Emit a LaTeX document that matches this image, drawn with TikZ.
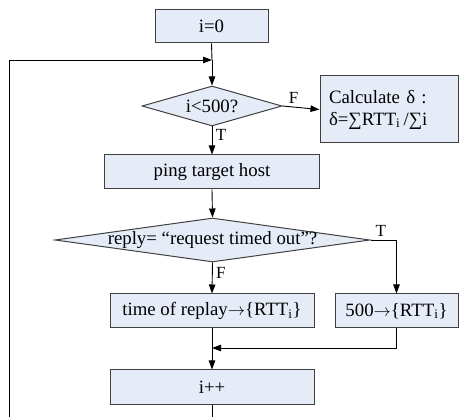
\documentclass[tikz,border=0pt]{standalone}
\usepackage{fontspec}
\setmainfont{Liberation Serif}
\usetikzlibrary{shapes.geometric,arrows.meta}
\definecolor{boxfill}{RGB}{230,236,247}
\definecolor{boxline}{RGB}{64,64,64}
\tikzset{
  procbox/.style={draw=boxline, fill=boxfill, line width=1pt, inner sep=0pt},
  decbox/.style={draw=boxline, fill=boxfill, line width=1pt, diamond, inner sep=0pt},
  flow/.style={line width=0.9pt, -{Triangle[length=9pt,width=6.5pt]}},
  branch/.style={font=\fontsize{17}{20}\selectfont},
}
\begin{document}
\begin{tikzpicture}[x=1pt, y=-1pt, font=\fontsize{18.8}{22}\selectfont]
    \useasboundingbox (0,0) rectangle (459,417);

    % 処理ボックス
    \node[procbox, minimum width=113pt, minimum height=33pt] (init) at (211.5,26.5) {i=0};
    \node[procbox, minimum width=215pt, minimum height=34pt] (ping) at (212,172) {ping target host};
    \node[procbox, minimum width=204pt, minimum height=34pt] (rec) at (212,311) {time of replay$\rightarrow$\{RTT\textsubscript{i}\}};
    \node[procbox, minimum width=123pt, minimum height=34pt] (fail) at (396.5,311) {500$\rightarrow$\{RTT\textsubscript{i}\}};
    \node[procbox, minimum width=204pt, minimum height=35pt] (inc) at (212,387.5) {i++};
    \node[procbox, minimum width=138pt, minimum height=67pt, text width=120pt, align=left] (calc) at (389,109.5)
        {Calculate δ :\\δ=∑RTT\textsubscript{i}\,/∑i};

    % 判断
    \node[decbox, minimum width=140pt, minimum height=40pt, label={center:i<500?}] (loop) at (212,106) {};
    \node[decbox, minimum width=315pt, minimum height=44pt, label={center:reply= “request timed out”?}] (reply) at (212.5,240) {};

    % 合流点
    \coordinate (join) at (212,60);
    \coordinate (merge) at (212,348);
    \coordinate (back) at (9,430);

    % 矢印
    \draw[line width=0.9pt] (init.south) -- (join);
    \draw[flow] (join) -- (loop.north);
    \draw[flow] (loop.east) -- (calc.west) node[pos=0.3, above, branch] {F};
    \draw[flow] (loop.south) -- (ping.north) node[pos=0.3, right, branch] {T};
    \draw[flow] (ping.south) -- (reply.north);
    \draw[flow] (reply.east) -| (fail.north) node[pos=0.2, above, branch] {T};
    \draw[flow] (reply.south) -- (rec.north) node[pos=0.35, right, branch] {F};
    \draw[line width=0.9pt] (rec.south) -- (merge);
    \draw[flow] (fail.south) |- (merge);
    \draw[flow] (merge) -- (inc.north);

    % ループ
    \draw[flow] (inc.south) |- (back) |- (join);
\end{tikzpicture}
\end{document}
